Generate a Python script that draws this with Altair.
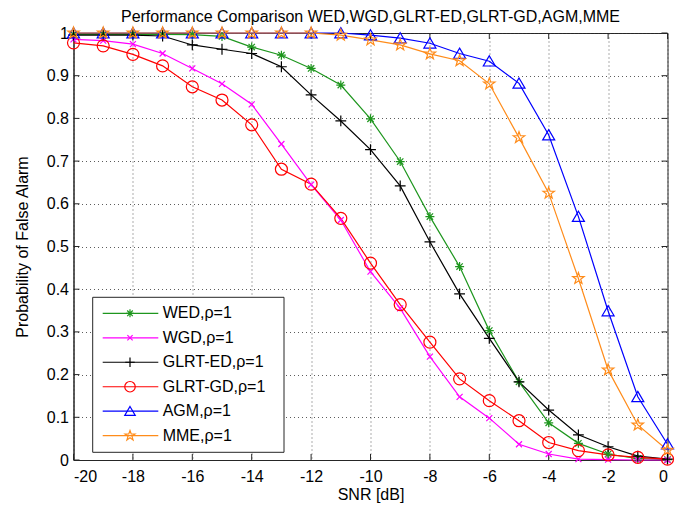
import math
import altair as alt
import pandas as pd

# ---------------- data ----------------
snr = list(range(-20, 1))
series_names = ["WED,ρ=1", "WGD,ρ=1", "GLRT-ED,ρ=1", "GLRT-GD,ρ=1", "AGM,ρ=1", "MME,ρ=1"]

wed = [0.997, 0.997, 0.997, 0.997, 0.996, 0.992, 0.967, 0.948, 0.917, 0.878, 0.799,
       0.699, 0.570, 0.453, 0.303, 0.183, 0.087, 0.039, 0.014, 0.003, 0.001]
wgd = [0.985, 0.982, 0.974, 0.952, 0.917, 0.881, 0.833, 0.740, 0.645, 0.562, 0.441,
       0.355, 0.242, 0.148, 0.098, 0.037, 0.014, 0.002, 0.001, 0.0, 0.0]
glrt_ed = [0.995, 0.995, 0.995, 0.993, 0.972, 0.962, 0.952, 0.921, 0.855, 0.794, 0.727,
           0.642, 0.511, 0.389, 0.285, 0.183, 0.117, 0.059, 0.031, 0.009, 0.002]
glrt_gd = [0.977, 0.970, 0.950, 0.923, 0.874, 0.843, 0.785, 0.681, 0.646, 0.566, 0.461,
           0.364, 0.276, 0.190, 0.139, 0.092, 0.041, 0.022, 0.012, 0.006, 0.002]
agm = [1.0, 1.0, 1.0, 1.0, 1.0, 1.0, 1.0, 1.0, 1.0, 1.0, 0.995,
       0.988, 0.976, 0.952, 0.934, 0.882, 0.761, 0.570, 0.349, 0.148, 0.037]
mme = [1.0, 1.0, 1.0, 1.0, 1.0, 1.0, 1.0, 1.0, 1.0, 0.995, 0.984,
       0.972, 0.951, 0.935, 0.881, 0.755, 0.625, 0.425, 0.211, 0.082, 0.023]

x_ticks = list(range(-20, 1, 2))
y_ticks = [0, 0.1, 0.2, 0.3, 0.4, 0.5, 0.6, 0.7, 0.8, 0.9, 1.0]

values = [wed, wgd, glrt_ed, glrt_gd, agm, mme]
rows = []
for name, vals in zip(series_names, values):
    for x, v in zip(snr, vals):
        rows.append({"snr": x, "p": v, "series": name})
df = pd.DataFrame(rows)

# ---------------- styles ----------------
FONT = "Liberation Sans"
colors = ["#1e961e", "#ff00ff", "#000000", "#ff0000", "#0000ff", "#ff8c1a"]


def pentagram():
    pts = []
    for k in range(10):
        r = 1.0 if k % 2 == 0 else 0.40
        a = math.radians(-90 + 36 * k)
        pts.append(f"{r * math.cos(a):.3f},{r * math.sin(a):.3f}")
    return "M" + "L".join(pts) + "Z"


shapes = [
    "M-0.75,0L0.75,0M0,-0.75L0,0.75M-0.53,-0.53L0.53,0.53M-0.53,0.53L0.53,-0.53",
    "M-0.5,-0.5L0.5,0.5M-0.5,0.5L0.5,-0.5",
    "M-0.9,0L0.9,0M0,-0.9L0,0.9",
    "circle",
    "M0,-0.9L1,0.8L-1,0.8Z",
    pentagram(),
]

xscale = alt.Scale(domain=[-20, 0], nice=False, zero=False)
yscale = alt.Scale(domain=[0, 1], nice=False, zero=False)
xaxis = alt.Axis(values=x_ticks, labelExpr="toString(datum.value)", title="SNR [dB]",
                 grid=True, ticks=False, labelPadding=8, titlePadding=2)
yaxis = alt.Axis(values=y_ticks, labelExpr="toString(round(datum.value*10)/10)",
                 title="Probability of False Alarm", grid=True, ticks=False,
                 labelPadding=5, titlePadding=16)

color_enc = alt.Color("series:N", scale=alt.Scale(domain=series_names, range=colors), legend=None)
shape_enc = alt.Shape("series:N", scale=alt.Scale(domain=series_names, range=shapes), legend=None)

W, H = 594, 427

lines = alt.Chart(df).mark_line(strokeWidth=1.2).encode(
    x=alt.X("snr:Q", scale=xscale, axis=xaxis),
    y=alt.Y("p:Q", scale=yscale, axis=yaxis),
    color=color_enc,
    order=alt.Order("snr:Q"),
)
points = alt.Chart(df).mark_point(filled=False, size=144, strokeWidth=1.2, opacity=1, clip=False).encode(
    x=alt.X("snr:Q", scale=xscale, axis=xaxis),
    y=alt.Y("p:Q", scale=yscale, axis=yaxis),
    color=color_enc,
    shape=shape_enc,
)

xt = pd.DataFrame({"snr": x_ticks})
yt = pd.DataFrame({"p": y_ticks})
tick_style = dict(color="#262626", strokeWidth=1)
xt_bottom = alt.Chart(xt).mark_rule(**tick_style).encode(
    x=alt.X("snr:Q", scale=xscale, axis=xaxis), y=alt.value(H), y2=alt.value(H - 6))
xt_top = alt.Chart(xt).mark_rule(**tick_style).encode(
    x=alt.X("snr:Q", scale=xscale, axis=xaxis), y=alt.value(0), y2=alt.value(6))
yt_left = alt.Chart(yt).mark_rule(**tick_style).encode(
    y=alt.Y("p:Q", scale=yscale, axis=yaxis), x=alt.value(0), x2=alt.value(6))
yt_right = alt.Chart(yt).mark_rule(**tick_style).encode(
    y=alt.Y("p:Q", scale=yscale, axis=yaxis), x=alt.value(W), x2=alt.value(W - 6))

main = alt.layer(xt_bottom, xt_top, yt_left, yt_right, lines, points)

# ---------------- legend (inside plot, lower left) ----------------
leg_df = pd.DataFrame({"series": series_names})
leg_y = alt.Y("series:N", scale=alt.Scale(type="point", domain=series_names, range=[280.3, 402.7], padding=0),
              axis=None)
box = alt.Chart(pd.DataFrame({"a": [0]})).mark_rect(fill="white", stroke="#262626", strokeWidth=1).encode(
    x=alt.value(19.2), x2=alt.value(210.5), y=alt.value(264.3), y2=alt.value(419.3))
leg_lines = alt.Chart(leg_df).mark_rule(strokeWidth=1.2).encode(
    x=alt.value(29.2), x2=alt.value(84.8), y=leg_y, color=color_enc)
leg_pts = alt.Chart(leg_df).mark_point(filled=False, size=110, strokeWidth=1.2, opacity=1).encode(
    x=alt.value(56.5), y=leg_y, color=color_enc, shape=shape_enc)
leg_txt = alt.Chart(leg_df).mark_text(align="left", baseline="middle", fontSize=16, font=FONT,
                                      color="black").encode(
    x=alt.value(89.2), y=leg_y, text="series:N")
legend = alt.layer(box, leg_lines, leg_pts, leg_txt)

chart = alt.layer(main, legend).resolve_scale(y="independent").properties(
    width=W, height=H,
    background="white",
    autosize=alt.AutoSizeParams(type="none"),
    padding={"left": 65.5, "top": 25, "right": 10, "bottom": 43},
    title=alt.TitleParams("Performance Comparison WED,WGD,GLRT-ED,GLRT-GD,AGM,MME",
                          fontSize=16, fontWeight="normal", font=FONT, color="black",
                          anchor="middle", offset=-0.5),
).configure_view(stroke="#262626", strokeWidth=1).configure_axis(
    labelFont=FONT, titleFont=FONT, labelFontSize=16, titleFontSize=16,
    titleFontWeight="normal", labelColor="black", titleColor="black",
    domainColor="#262626", gridColor="#333333", gridDash=[1, 3], gridOpacity=0.8,
    gridWidth=1,
)

chart.save("out.html", embed_options={"renderer": "svg", "actions": False})
